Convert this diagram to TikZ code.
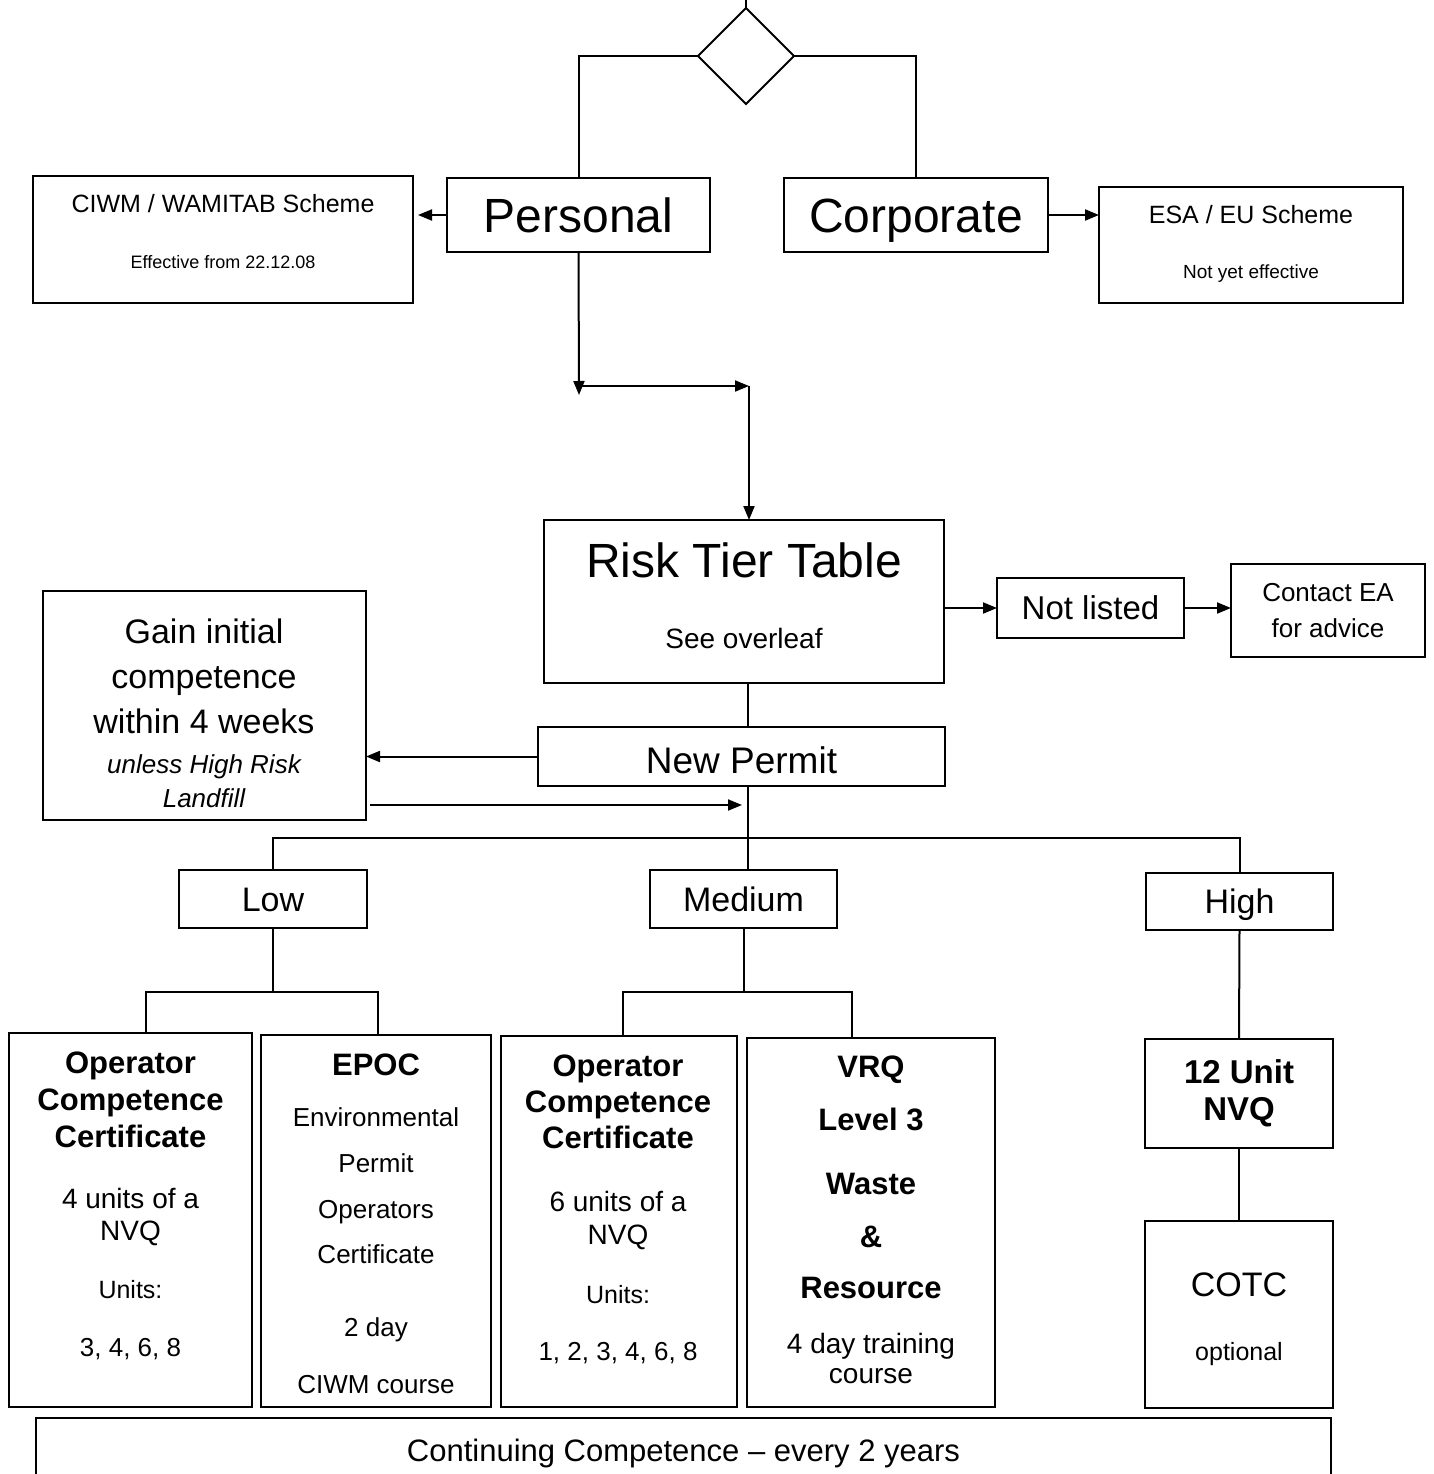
\documentclass[tikz,border=0pt]{standalone}
\usepackage{fontspec}
\setmainfont{Liberation Sans}
\usepackage{tikz}
\usetikzlibrary{arrows.meta}
\usetikzlibrary{shapes.geometric}
\newcommand{\fsz}[1]{\fontsize{#1}{#1}\selectfont}
\tikzset{
    box/.style = {draw=black, line width=2pt, inner sep=0pt, outer sep=0pt, align=center, text depth=0pt},
    decision/.style = {diamond, draw=black, line width=2pt, inner sep=0pt, outer sep=0pt, aspect=1},
    txt/.style = {anchor=base, inner sep=0pt, align=center},
    link/.style = {draw=black, line width=2pt}
}

\begin{document}
\begin{tikzpicture}
            [x=1pt, y=-1pt, >={Triangle[length=14pt, width=11pt]}]

            \clip (0,0) rectangle (1433,1474);

            \node [decision, minimum width=96pt, minimum height=96pt] (choice) at (746,56) {};
            \coordinate (entry) at (746,0);

            \node [box, minimum width=263pt, minimum height=74pt, font=\fsz{48}, text height=34pt] (personal) at (578.5,215) {Personal};
            \node [box, minimum width=264pt, minimum height=74pt, font=\fsz{48}, text height=34pt] (corporate) at (916,215) {Corporate};

            \node [box, minimum width=380pt, minimum height=127pt] (ciwm) at (223,239.5) {};
            \node [txt, font=\fsz{25}] (ciwm-a) at (223,212) {CIWM / WAMITAB Scheme};
            \node [txt, font=\fsz{18}] (ciwm-b) at (223,268) {Effective from 22.12.08};

            \node [box, minimum width=304pt, minimum height=116pt] (esa) at (1251,245) {};
            \node [txt, font=\fsz{25}] (esa-a) at (1251,223) {ESA / EU Scheme};
            \node [txt, font=\fsz{19}] (esa-b) at (1251,278) {Not yet effective};

            \node [box, minimum width=400pt, minimum height=163pt] (risk) at (744,601.5) {};
            \node [txt, font=\fsz{48}] (risk-a) at (744,577) {Risk Tier Table};
            \node [txt, font=\fsz{28}] (risk-b) at (744,648) {See overleaf};

            \node [box, minimum width=187pt, minimum height=60pt, font=\fsz{33}, text height=23.6pt] (notlisted) at (1090.5,608) {Not listed};

            \node [box, minimum width=194pt, minimum height=93pt] (contact) at (1328,610.5) {};
            \node [txt, font=\fsz{26}] (contact-a) at (1328,601) {Contact EA};
            \node [txt, font=\fsz{26}] (contact-b) at (1328,637) {for advice};

            \node [box, minimum width=407pt, minimum height=59pt, font=\fsz{37}, text height=33pt] (permit) at (741.5,756.5) {New Permit};

            \node [box, minimum width=323pt, minimum height=229pt] (gain) at (204.5,705.5) {};
            \node [txt, font=\fsz{34}] (gain-a) at (204,643) {Gain initial};
            \node [txt, font=\fsz{34}] (gain-b) at (204,688) {competence};
            \node [txt, font=\fsz{34}] (gain-c) at (204,733) {within 4 weeks};
            \node [txt, font=\fsz{26}\itshape] (gain-d) at (204,773) {unless High Risk};
            \node [txt, font=\fsz{26}\itshape] (gain-e) at (204,807) {Landfill};

            \node [box, minimum width=188pt, minimum height=58pt, font=\fsz{34}, text height=24.3pt] (low) at (273,899) {Low};
            \node [box, minimum width=187pt, minimum height=58pt, font=\fsz{34}, text height=24.3pt] (medium) at (743.5,899) {Medium};
            \node [box, minimum width=187pt, minimum height=57pt, font=\fsz{34}, text height=24.3pt] (high) at (1239.5,901.5) {High};

            \node [box, minimum width=243pt, minimum height=374pt] (occa) at (130.5,1220) {};
            \node [txt, font=\fsz{31}\bfseries] (occa-a) at (130.5,1073) {Operator};
            \node [txt, font=\fsz{31}\bfseries] (occa-b) at (130.5,1110) {Competence};
            \node [txt, font=\fsz{31}\bfseries] (occa-c) at (130.5,1147) {Certificate};
            \node [txt, font=\fsz{28}] (occa-d) at (130.5,1208) {4 units of a};
            \node [txt, font=\fsz{28}] (occa-e) at (130.5,1240) {NVQ};
            \node [txt, font=\fsz{25}] (occa-f) at (130.5,1298) {Units:};
            \node [txt, font=\fsz{26}] (occa-g) at (130.5,1356) {3, 4, 6, 8};

            \node [box, minimum width=230pt, minimum height=372pt] (epoc) at (376,1221) {};
            \node [txt, font=\fsz{31}\bfseries] (epoc-a) at (376,1075) {EPOC};
            \node [txt, font=\fsz{26}] (epoc-b) at (376,1126) {Environmental};
            \node [txt, font=\fsz{26}] (epoc-c) at (376,1172) {Permit};
            \node [txt, font=\fsz{26}] (epoc-d) at (376,1218) {Operators};
            \node [txt, font=\fsz{26}] (epoc-e) at (376,1263) {Certificate};
            \node [txt, font=\fsz{26}] (epoc-f) at (376,1336) {2 day};
            \node [txt, font=\fsz{26}] (epoc-g) at (376,1393) {CIWM course};

            \node [box, minimum width=236pt, minimum height=371pt] (occb) at (619,1221.5) {};
            \node [txt, font=\fsz{31}\bfseries] (occb-a) at (618,1076) {Operator};
            \node [txt, font=\fsz{31}\bfseries] (occb-b) at (618,1112) {Competence};
            \node [txt, font=\fsz{31}\bfseries] (occb-c) at (618,1148) {Certificate};
            \node [txt, font=\fsz{28}] (occb-d) at (618,1211) {6 units of a};
            \node [txt, font=\fsz{28}] (occb-e) at (618,1244) {NVQ};
            \node [txt, font=\fsz{25}] (occb-f) at (618,1303) {Units:};
            \node [txt, font=\fsz{26}] (occb-g) at (618,1360) {1, 2, 3, 4, 6, 8};

            \node [box, minimum width=248pt, minimum height=369pt] (vrq) at (871,1222.5) {};
            \node [txt, font=\fsz{31}\bfseries] (vrq-a) at (871,1077) {VRQ};
            \node [txt, font=\fsz{31}\bfseries] (vrq-b) at (871,1130) {Level 3};
            \node [txt, font=\fsz{31}\bfseries] (vrq-c) at (871,1194) {Waste};
            \node [txt, font=\fsz{31}\bfseries] (vrq-d) at (871,1247) {\&};
            \node [txt, font=\fsz{31}\bfseries] (vrq-e) at (871,1298) {Resource};
            \node [txt, font=\fsz{28}] (vrq-f) at (871,1353) {4 day training};
            \node [txt, font=\fsz{28}] (vrq-g) at (871,1383) {course};

            \node [box, minimum width=188pt, minimum height=109pt] (nvq) at (1239,1093.5) {};
            \node [txt, font=\fsz{33}\bfseries] (nvq-a) at (1239,1083) {12 Unit};
            \node [txt, font=\fsz{33}\bfseries] (nvq-b) at (1239,1120) {NVQ};

            \node [box, minimum width=188pt, minimum height=187pt] (cotc) at (1239,1314.5) {};
            \node [txt, font=\fsz{34}] (cotc-a) at (1239,1296) {COTC};
            \node [txt, font=\fsz{25}] (cotc-b) at (1239,1360) {optional};

            \node [box, minimum width=1295pt, minimum height=82pt] (continuing) at (683.5,1459) {};
            \node [txt, font=\fsz{31}] (continuing-a) at (683.5,1461) {Continuing Competence -- every 2 years};

            \coordinate (drop) at (579,395);
            \coordinate (turn) at (749,386);
            \coordinate (trunk) at (748,838);
            \coordinate (back) at (742,805);
            \coordinate (lowsplit) at (274,992);
            \coordinate (medsplit) at (743,992);

            \draw [link] (entry) -- (choice.north);
            \draw [link] (choice.west) -| (personal.north);
            \draw [link] (choice.east) -| (corporate.north);
            \draw [link, ->, shorten >=5pt] (personal.west) -- (ciwm.east |- personal.west);
            \draw [link, ->] (corporate.east) -- (esa.west |- corporate.east);

            \draw [link, ->] (personal.south) -- (drop);
            \draw [link, ->] (drop |- turn) -- (turn);
            \draw [link, ->] (turn) -- (turn |- risk.north);

            \draw [link, ->] (risk.east |- notlisted.west) -- (notlisted.west);
            \draw [link, ->] (notlisted.east) -- (contact.west |- notlisted.east);

            \draw [link] (trunk |- risk.south) -- (trunk |- permit.north);
            \draw [link] (trunk |- permit.south) -- (trunk |- medium.north);
            \draw [link, ->] (permit.west) -- (gain.east |- permit.west);
            \draw [link, ->, shorten <=4pt] (gain.east |- back) -- (back);

            \draw [link] (low.north) |- (trunk) -| (high.north);
            \draw [link] (low.south) -- (low.south |- lowsplit);
            \draw [link] ([xshift=15pt]occa.north) |- (lowsplit) -| ([xshift=2pt]epoc.north);
            \draw [link] (medium.south) -- (medium.south |- medsplit);
            \draw [link] ([xshift=4pt]occb.north) |- (medsplit) -| ([xshift=-19pt]vrq.north);
            \draw [link] (high.south) -- (nvq.north);
            \draw [link] (nvq.south) -- (cotc.north);
\end{tikzpicture}
\end{document}
